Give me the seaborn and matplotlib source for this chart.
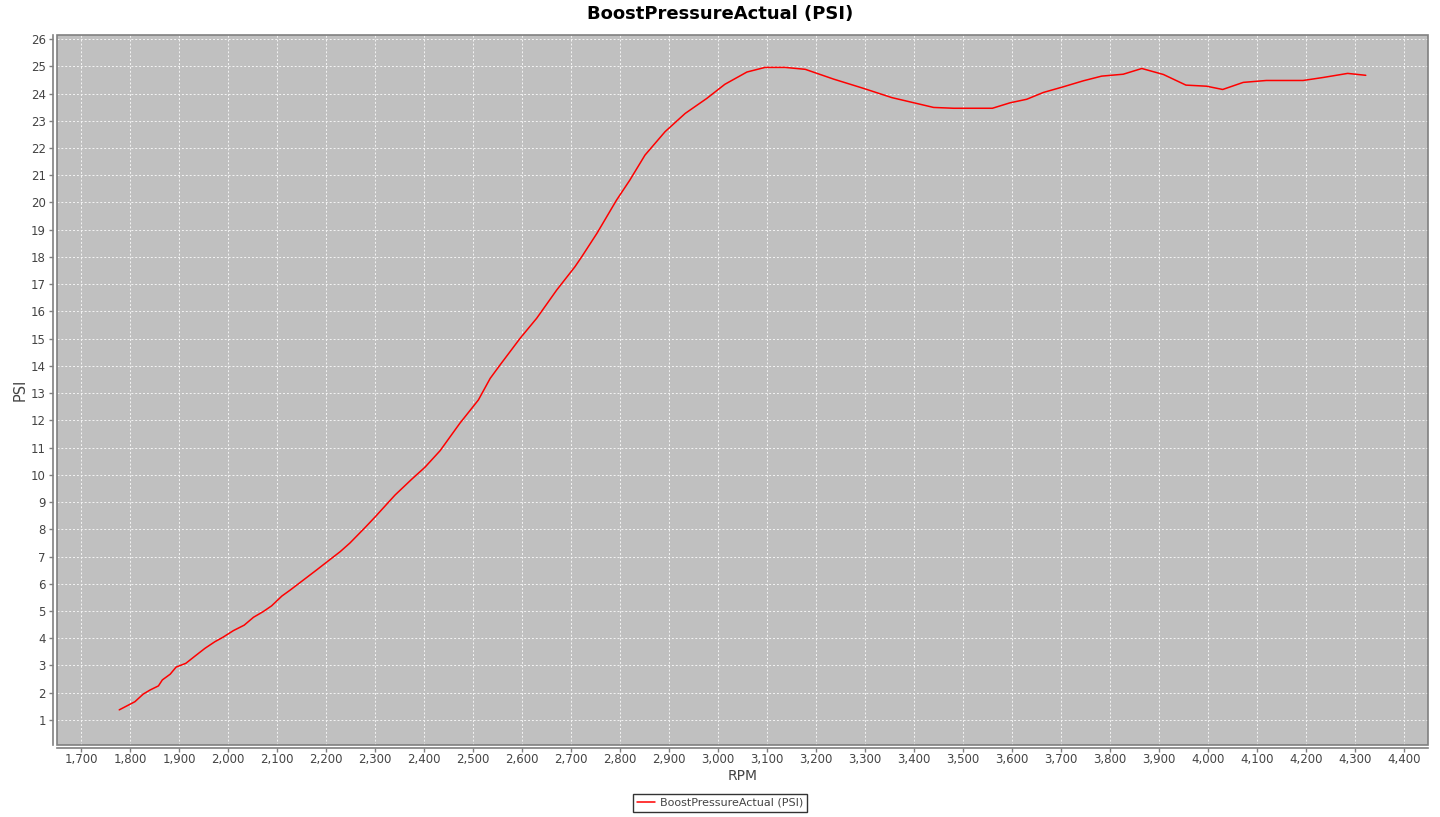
import pandas as pd
import seaborn as sns
import matplotlib.pyplot as plt
from matplotlib.patches import Rectangle
from matplotlib.ticker import FuncFormatter, MultipleLocator

# values
rpm = [1778, 1810, 1827, 1841, 1858, 1866, 1882, 1894, 1914, 1933, 1953, 1973,
       1990, 2011, 2033, 2052, 2072, 2089, 2110, 2127, 2154, 2181, 2201, 2229,
       2249, 2280, 2300, 2341, 2375, 2402, 2433, 2473, 2511, 2535, 2555, 2596,
       2630, 2671, 2708, 2722, 2753, 2793, 2820, 2851, 2892, 2933, 2977, 3014,
       3059, 3096, 3137, 3178, 3236, 3297, 3355, 3400, 3440, 3481, 3560, 3596,
       3630, 3664, 3705, 3746, 3783, 3827, 3865, 3909, 3955, 3997, 4030, 4072,
       4119, 4194, 4235, 4285, 4322]
psi = [1.37, 1.67, 1.95, 2.10, 2.25, 2.47, 2.68, 2.94, 3.08, 3.35, 3.63, 3.87,
       4.04, 4.28, 4.48, 4.77, 4.98, 5.19, 5.55, 5.77, 6.14, 6.51, 6.79, 7.18,
       7.50, 8.07, 8.45, 9.26, 9.84, 10.28, 10.89, 11.89, 12.75, 13.54, 14.03, 15.01,
       15.75, 16.79, 17.64, 18.01, 18.87, 20.09, 20.82, 21.74, 22.60, 23.27, 23.82, 24.34,
       24.79, 24.96, 24.96, 24.89, 24.53, 24.19, 23.85, 23.66, 23.49, 23.46, 23.46, 23.66,
       23.79, 24.04, 24.25, 24.47, 24.64, 24.71, 24.92, 24.70, 24.31, 24.27, 24.15, 24.41,
       24.48, 24.48, 24.59, 24.74, 24.67]

series_name = "BoostPressureActual (PSI)"

df = pd.DataFrame({"RPM": rpm, "PSI": psi, "series": series_name})

sns.set_style("white")
plt.rcParams['font.family'] = ['DejaVu Sans']

fig = plt.figure(figsize=(14.4, 8.17), dpi=100)
ax = fig.add_axes([57 / 1440, 72 / 817, 1371 / 1440, 710 / 817])
ax.set_facecolor("#c0c0c0")

sns.lineplot(data=df, x="RPM", y="PSI", hue="series", palette=["#ff0000"],
             linewidth=1.1, sort=False, ax=ax)

ax.set_xlim(1651, 4449)
ax.set_ylim(0.08, 26.15)
ax.xaxis.set_major_locator(MultipleLocator(100))
ax.yaxis.set_major_locator(MultipleLocator(1))
ax.xaxis.set_major_formatter(FuncFormatter(lambda v, p: f"{int(v):,}"))

ax.grid(True, color="#f4f4f4", linestyle=(0, (2, 2)), linewidth=0.7)
ax.set_axisbelow(True)

# axis lines sit a little outside the plot border, like JFreeChart
ax.spines["left"].set_position(("outward", 3))
ax.spines["bottom"].set_position(("outward", 2))
for side in ["left", "bottom"]:
    ax.spines[side].set_color("#808080")
    ax.spines[side].set_linewidth(1.2)
for side in ["top", "right"]:
    ax.spines[side].set_visible(False)
ax.add_patch(Rectangle((0, 0), 1, 1, transform=ax.transAxes, fill=False,
                       edgecolor="#808080", linewidth=1.2, clip_on=False))

ax.tick_params(axis="x", direction="out", length=3, width=1, color="#808080",
               labelsize=8.5, labelcolor="#444444", bottom=True, pad=1)
ax.tick_params(axis="y", direction="out", length=3, width=1, color="#808080",
               labelsize=8.5, labelcolor="#444444", left=True, pad=2)

ax.set_xlabel("RPM", fontsize=10, color="#444444", labelpad=2)
ax.set_ylabel("PSI", fontsize=10.5, color="#444444", labelpad=2)
fig.text(0.5, 1 - 14 / 817, series_name, ha="center", va="center",
         fontsize=13, fontweight="bold", color="black")

leg = ax.legend(loc="upper center", bbox_to_anchor=(0.4836, -0.069), frameon=True,
                fancybox=False, fontsize=8, handlelength=1.6, borderpad=0.35,
                handletextpad=0.4, borderaxespad=0)
leg.get_frame().set_edgecolor("black")
leg.get_frame().set_linewidth(1)
for t in leg.get_texts():
    t.set_color("#444444")

plt.savefig("out.png", dpi=100)
